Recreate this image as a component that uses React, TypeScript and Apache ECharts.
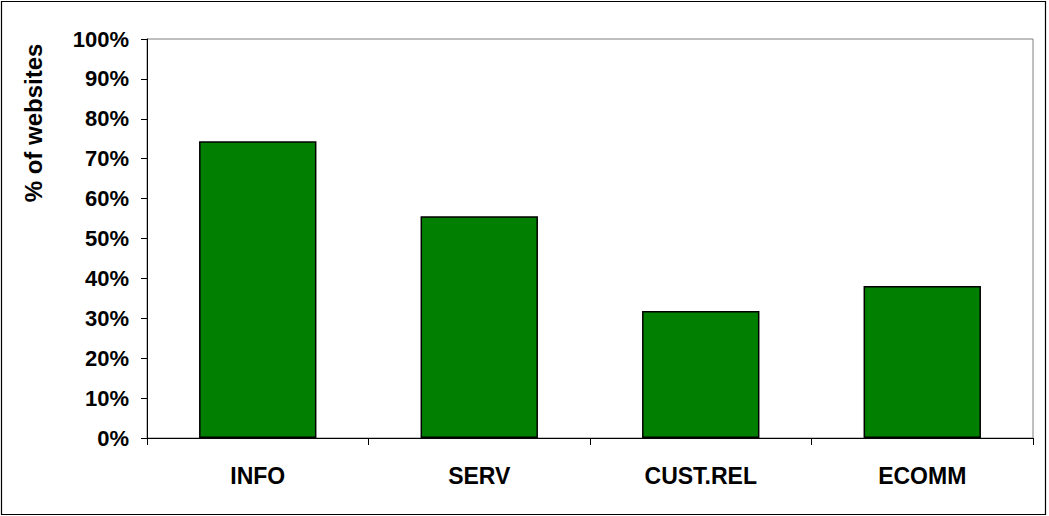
import React, { useEffect, useRef } from "react";
import * as echarts from "echarts";

const categories = ["INFO", "SERV", "CUST.REL", "ECOMM"];
const values = [74.4, 55.6, 31.8, 38.1];
const yTicks = [0, 10, 20, 30, 40, 50, 60, 70, 80, 90, 100];
const yTitle = "% of websites";

export default function App() {
  const ref = useRef<HTMLDivElement>(null);
  useEffect(() => {
    document.body.style.margin = "0";
    const chart = echarts.init(ref.current!, null, { renderer: "svg" });
    const font = "Liberation Sans, Arial, sans-serif";
    chart.setOption({
      animation: false,
      backgroundColor: "#ffffff",
      grid: {
        left: 147,
        top: 39,
        right: 16,
        bottom: 78,
        show: true,
        borderColor: "#808080",
        borderWidth: 1,
        backgroundColor: "transparent",
      },
      graphic: [
        {
          type: "rect",
          shape: { x: 1.5, y: 1.5, width: 1044, height: 513 },
          style: { fill: "none", stroke: "#000", lineWidth: 1.2 },
          silent: true,
        },
        {
          type: "text",
          x: 33,
          y: 123,
          rotation: Math.PI / 2,
          style: {
            text: yTitle,
            fontFamily: font,
            fontWeight: "bold",
            fontSize: 24,
            fill: "#000",
            align: "center",
            verticalAlign: "middle",
          },
        },
      ],
      xAxis: {
        type: "category",
        data: categories,
        boundaryGap: true,
        axisLine: { lineStyle: { color: "#000", width: 1 } },
        axisTick: { show: true, inside: false, length: 7, lineStyle: { color: "#000" } },
        axisLabel: {
          fontFamily: font,
          fontWeight: "bold",
          fontSize: 23,
          color: "#000",
          margin: 26,
        },
        splitLine: { show: false },
      },
      yAxis: {
        type: "value",
        min: 0,
        max: 100,
        interval: 10,
        axisLine: { show: true, lineStyle: { color: "#000", width: 1 } },
        axisTick: { show: true, inside: false, length: 6, lineStyle: { color: "#000" } },
        axisLabel: {
          fontFamily: font,
          fontWeight: "bold",
          fontSize: 22,
          color: "#000",
          margin: 18,
          formatter: (v: number) => (yTicks.includes(v) ? v + "%" : ""),
        },
        splitLine: { show: false },
      },
      series: [
        {
          type: "bar",
          data: values,
          barCategoryGap: "47%",
          itemStyle: { color: "#007F00", borderColor: "#000", borderWidth: 1.5 },
        },
      ],
    });
    return () => chart.dispose();
  }, []);
  return <div ref={ref} style={{ width: 1049, height: 516 }} />;
}
